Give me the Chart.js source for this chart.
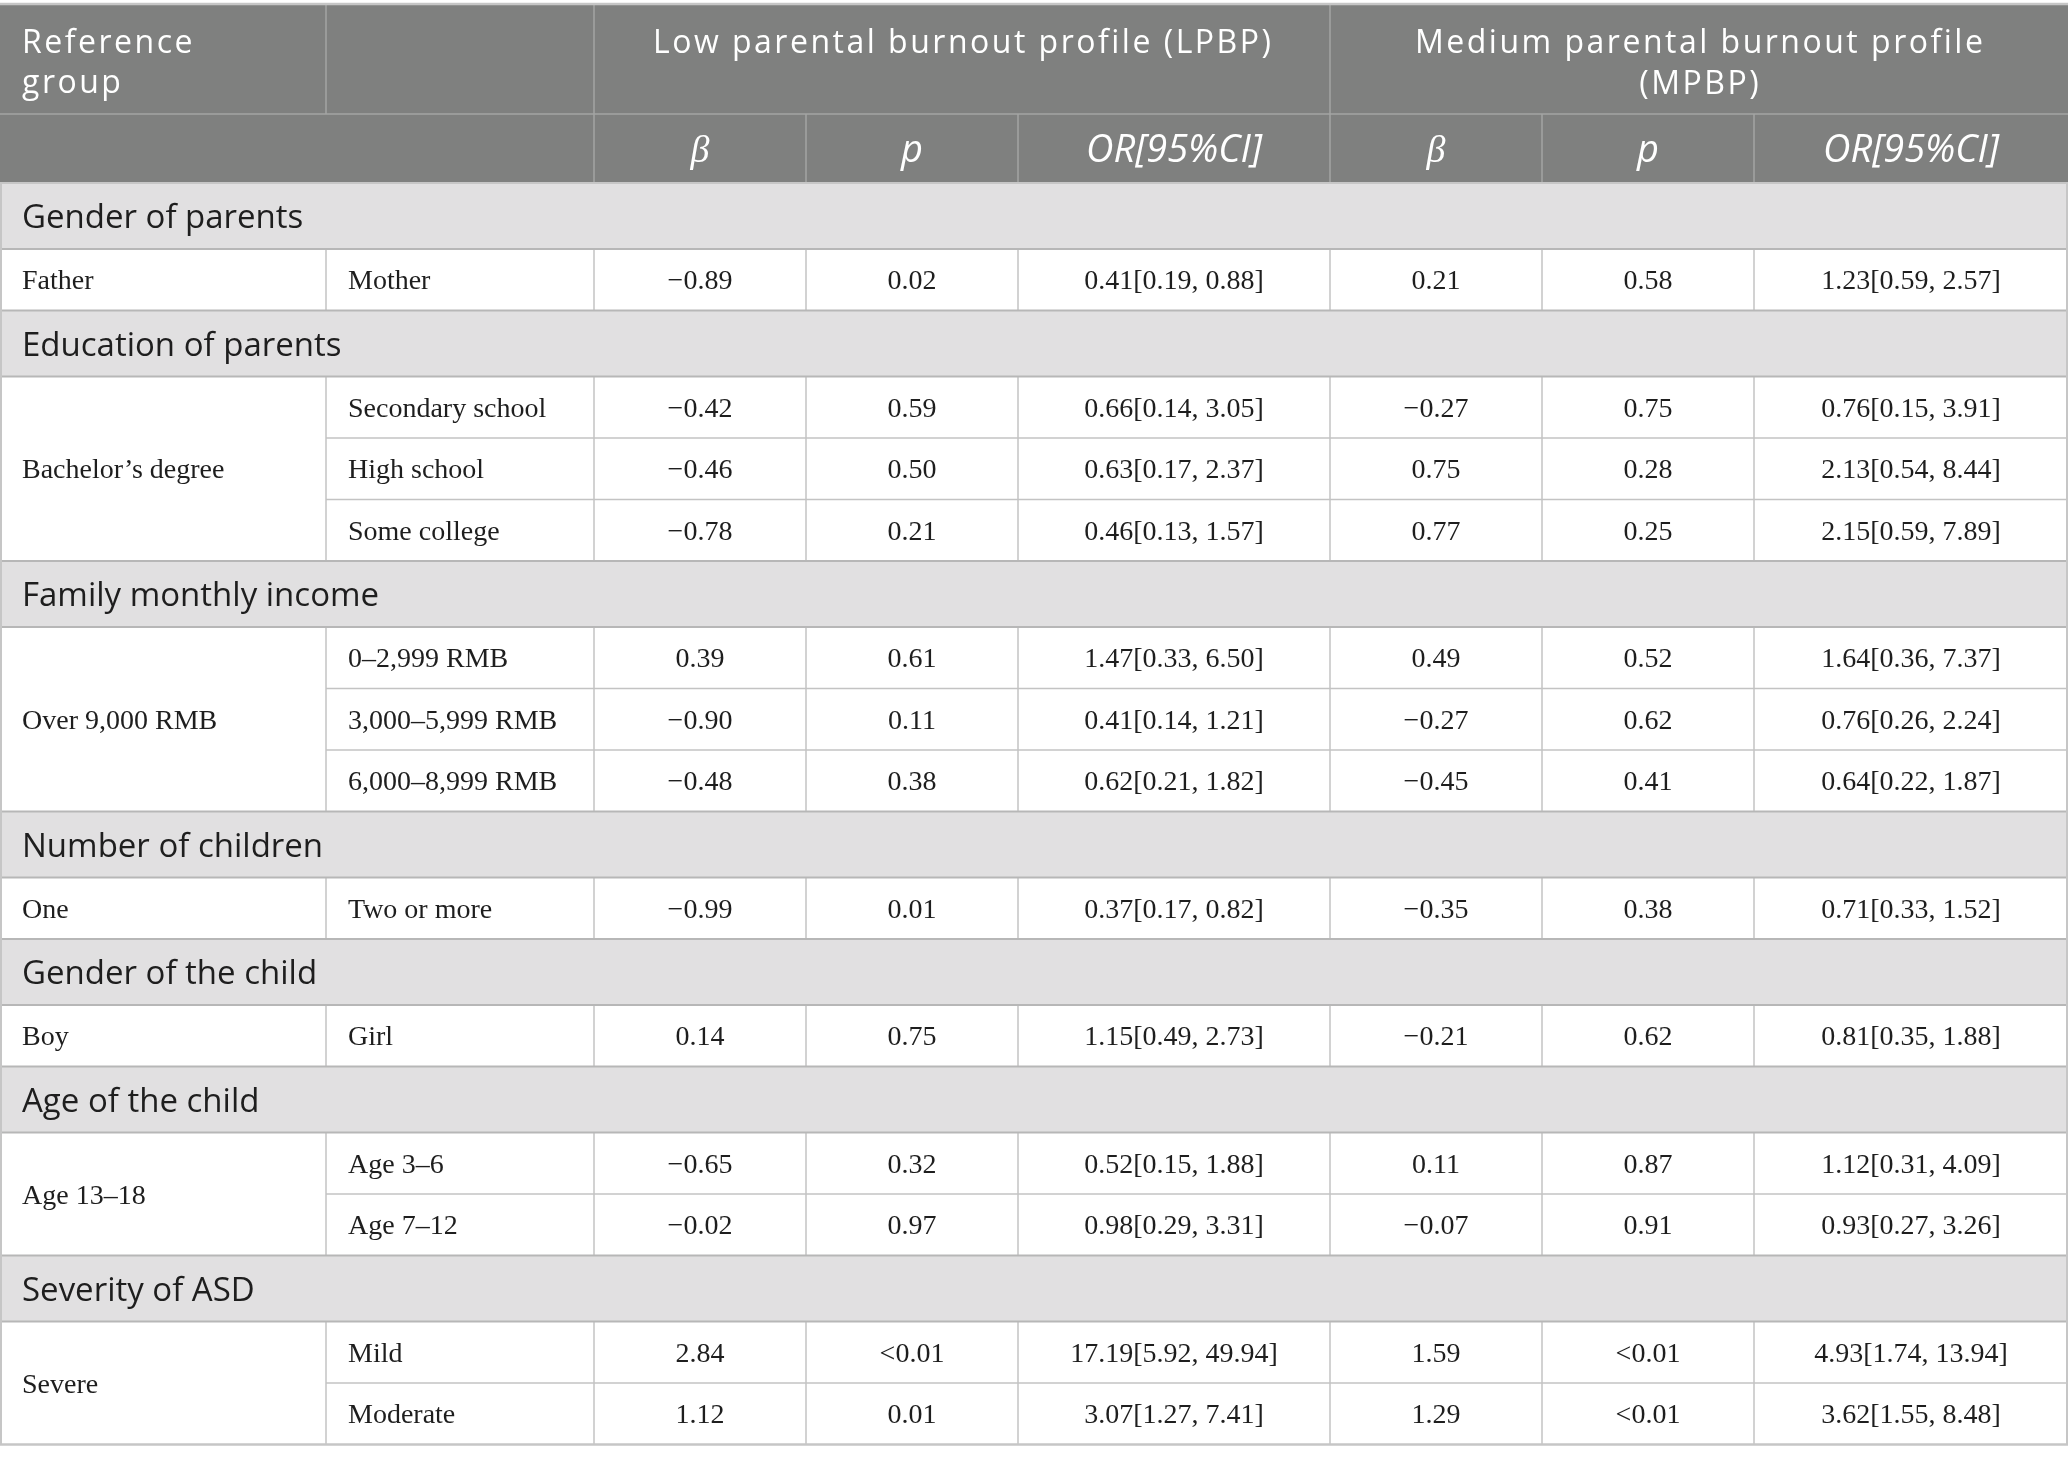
<!DOCTYPE html>
<html>
<head>
<meta charset="utf-8">
<script src="https://cdn.jsdelivr.net/npm/chart.js@4.4.1/dist/chart.umd.min.js"></script>
<style>
html,body{margin:0;padding:0;background:#ffffff;}
#wrap{width:2068px;height:1462px;position:relative;}
</style>
</head>
<body>
<div id="wrap"><canvas id="c"></canvas></div>
<script>
// ---------- DATA ----------
const refHeaderLines = ["Reference", "group"];
const profileHeaders = [["Low parental burnout profile (LPBP)"], ["Medium parental burnout profile", "(MPBP)"]];
const statLabels = ["β", "p", "OR[95%CI]"];

const sections = ["Gender of parents", "Education of parents", "Family monthly income",
  "Number of children", "Gender of the child", "Age of the child", "Severity of ASD"];
const referenceGroups = ["Father", "Bachelor’s degree", "Over 9,000 RMB", "One", "Boy", "Age 13–18", "Severe"];
const comparisons = ["Mother", "Secondary school", "High school", "Some college",
  "0–2,999 RMB", "3,000–5,999 RMB", "6,000–8,999 RMB", "Two or more", "Girl",
  "Age 3–6", "Age 7–12", "Mild", "Moderate"];
const comparisonSection = [0, 1, 1, 1, 2, 2, 2, 3, 4, 5, 5, 6, 6];

const lpbpBeta = [-0.89, -0.42, -0.46, -0.78, 0.39, -0.90, -0.48, -0.99, 0.14, -0.65, -0.02, 2.84, 1.12];
const lpbpP = ["0.02", "0.59", "0.50", "0.21", "0.61", "0.11", "0.38", "0.01", "0.75", "0.32", "0.97", "<0.01", "0.01"];
const lpbpOR = [0.41, 0.66, 0.63, 0.46, 1.47, 0.41, 0.62, 0.37, 1.15, 0.52, 0.98, 17.19, 3.07];
const lpbpLow = [0.19, 0.14, 0.17, 0.13, 0.33, 0.14, 0.21, 0.17, 0.49, 0.15, 0.29, 5.92, 1.27];
const lpbpHigh = [0.88, 3.05, 2.37, 1.57, 6.50, 1.21, 1.82, 0.82, 2.73, 1.88, 3.31, 49.94, 7.41];

const mpbpBeta = [0.21, -0.27, 0.75, 0.77, 0.49, -0.27, -0.45, -0.35, -0.21, 0.11, -0.07, 1.59, 1.29];
const mpbpP = ["0.58", "0.75", "0.28", "0.25", "0.52", "0.62", "0.41", "0.38", "0.62", "0.87", "0.91", "<0.01", "<0.01"];
const mpbpOR = [1.23, 0.76, 2.13, 2.15, 1.64, 0.76, 0.64, 0.71, 0.81, 1.12, 0.93, 4.93, 3.62];
const mpbpLow = [0.59, 0.15, 0.54, 0.59, 0.36, 0.26, 0.22, 0.33, 0.35, 0.31, 0.27, 1.74, 1.55];
const mpbpHigh = [2.57, 3.91, 8.44, 7.89, 7.37, 2.24, 1.87, 1.52, 1.88, 4.09, 3.26, 13.94, 8.48];

// ---------- LAYOUT (positions / sizes / styles) ----------
const W = 2068, H = 1462;
const colEdges = [0, 326, 594, 806, 1018, 1330, 1542, 1754, 2068];
const tableTop = 4, header1H = 110, header2H = 69, sectionH = 66, dataH = 61.5;
const padX = 22;
const style = {
  headerBg: "#7f807f", headerLine: "#a3a4a3", sectionBg: "#e1e0e1",
  sectionLine: "#b7b7b7", dataLine: "#c3c3c3", outerLine: "#c6c6c6",
  headerFont: "400 32px 'Open Sans'", headerSpacing: "2.5px",
  statFont: "italic 400 38px 'Open Sans'", betaFont: "italic 38px 'Liberation Serif'",
  sectionFont: "400 33px 'Open Sans'", dataFont: "28px 'Liberation Serif'",
  text: "#1e1e1e"
};

function fmt(v) { const s = Math.abs(v).toFixed(2); return (v < 0 ? "\u2212" : "") + s; }
function orText(o, l, h) { return o.toFixed(2) + "[" + l.toFixed(2) + ", " + h.toFixed(2) + "]"; }

// build row model from data
const rows = [];
const groups = [];
(function build() {
  let y = tableTop + header1H + header2H;
  sections.forEach((name, s) => {
    rows.push({ type: "section", label: name, y0: y, y1: y + sectionH });
    y += sectionH;
    const g = { ref: referenceGroups[s], y0: y, rows: [] };
    comparisons.forEach((c, i) => {
      if (comparisonSection[i] !== s) return;
      const r = { type: "data", idx: i, y0: y, y1: y + dataH };
      rows.push(r); g.rows.push(r);
      y += dataH;
    });
    g.y1 = y;
    groups.push(g);
  });
})();

const tablePlugin = {
  id: "tablePlugin",
  afterDraw(chart) {
    const ctx = chart.ctx;
    const X = v => chart.scales.x.getPixelForValue(v);
    const Y = v => chart.scales.y.getPixelForValue(v);
    const hTop = tableTop, h1 = tableTop + header1H, h2 = h1 + header2H;
    const bottom = groups[groups.length - 1].y1;

    ctx.save();
    ctx.fillStyle = style.headerBg;
    ctx.fillRect(X(0), Y(hTop), X(W) - X(0), Y(h2) - Y(hTop));
    rows.forEach(r => {
      if (r.type !== "section") return;
      ctx.fillStyle = style.sectionBg;
      ctx.fillRect(X(0), Y(r.y0), X(W) - X(0), Y(r.y1) - Y(r.y0));
    });

    function hline(x0, x1, y, color, w) {
      ctx.strokeStyle = color; ctx.lineWidth = w;
      ctx.beginPath(); ctx.moveTo(X(x0), Y(y)); ctx.lineTo(X(x1), Y(y)); ctx.stroke();
    }
    function vline(x, y0, y1, color, w) {
      ctx.strokeStyle = color; ctx.lineWidth = w;
      ctx.beginPath(); ctx.moveTo(X(x), Y(y0)); ctx.lineTo(X(x), Y(y1)); ctx.stroke();
    }

    [colEdges[1], colEdges[2], colEdges[5]].forEach(x => vline(x, hTop, h1, style.headerLine, 1.5));
    [colEdges[2], colEdges[3], colEdges[4], colEdges[5], colEdges[6], colEdges[7]].forEach(x => vline(x, h1, h2, style.headerLine, 1.5));
    hline(0, W, h1, style.headerLine, 1.5);

    groups.forEach(g => {
      for (let k = 1; k < colEdges.length - 1; k++) vline(colEdges[k], g.y0, g.y1, style.dataLine, 1.5);
      g.rows.forEach((r, j) => { if (j > 0) hline(colEdges[1], W, r.y0, style.dataLine, 1.6); });
    });
    rows.forEach(r => {
      if (r.type !== "section") return;
      hline(0, W, r.y0, r.y0 === h2 ? style.outerLine : style.sectionLine, 2);
      hline(0, W, r.y1, style.sectionLine, 2);
    });
    hline(0, W, hTop, style.outerLine, 2.5);
    hline(0, W, bottom, style.outerLine, 2.5);
    vline(1, h2, bottom, style.outerLine, 2);
    vline(W - 1, h2, bottom, style.outerLine, 2);

    // header text
    ctx.fillStyle = "#ffffff";
    ctx.font = style.headerFont;
    ctx.textBaseline = "alphabetic";
    if ("letterSpacing" in ctx) ctx.letterSpacing = style.headerSpacing;
    ctx.textAlign = "left";
    refHeaderLines.forEach((t, i) => ctx.fillText(t, X(padX), Y(hTop + 49 + i * 40)));
    ctx.textAlign = "center";
    profileHeaders.forEach((lines, p) => {
      const cx = (colEdges[2 + p * 3] + colEdges[5 + p * 3]) / 2;
      lines.forEach((t, i) => ctx.fillText(t, X(cx) + 1.2, Y(hTop + 49 + i * 41)));
    });
    if ("letterSpacing" in ctx) ctx.letterSpacing = "0px";
    for (let p = 0; p < 2; p++) {
      statLabels.forEach((t, k) => {
        const c = 2 + p * 3 + k;
        const cx = (colEdges[c] + colEdges[c + 1]) / 2;
        ctx.font = k === 0 ? style.betaFont : style.statFont;
        ctx.fillText(t, X(cx), Y(h1 + 48));
      });
    }

    // section text
    ctx.fillStyle = style.text;
    ctx.textAlign = "left";
    ctx.font = style.sectionFont;
    rows.forEach(r => {
      if (r.type !== "section") return;
      ctx.fillText(r.label, X(padX), Y((r.y0 + r.y1) / 2 + 12));
    });

    // data text
    ctx.font = style.dataFont;
    const base = (a, b) => Y((a + b) / 2 + 9.5);
    groups.forEach(g => {
      ctx.textAlign = "left";
      ctx.fillText(g.ref, X(padX), base(g.y0, g.y1));
      g.rows.forEach(r => {
        const i = r.idx;
        ctx.textAlign = "left";
        ctx.fillText(comparisons[i], X(colEdges[1] + padX), base(r.y0, r.y1));
        const cells = [fmt(lpbpBeta[i]), lpbpP[i], orText(lpbpOR[i], lpbpLow[i], lpbpHigh[i]),
                       fmt(mpbpBeta[i]), mpbpP[i], orText(mpbpOR[i], mpbpLow[i], mpbpHigh[i])];
        ctx.textAlign = "center";
        cells.forEach((t, k) => {
          const cx = (colEdges[2 + k] + colEdges[3 + k]) / 2;
          ctx.fillText(t, X(cx), base(r.y0, r.y1));
        });
      });
    });
    ctx.restore();
  }
};

new Chart(document.getElementById("c"), {
  type: "scatter",
  data: { datasets: [{ data: [] }] },
  options: {
    responsive: true,
    maintainAspectRatio: false,
    animation: false,
    events: [],
    layout: { padding: 0 },
    plugins: { legend: { display: false }, tooltip: { enabled: false } },
    scales: {
      x: { type: "linear", min: 0, max: W, display: false },
      y: { type: "linear", min: 0, max: H, reverse: true, display: false }
    }
  },
  plugins: [tablePlugin]
});
</script>
</body>
</html>
